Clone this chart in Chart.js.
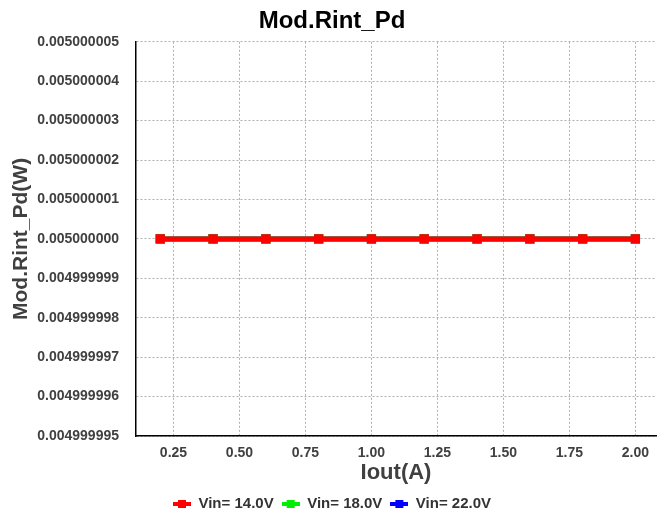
<!DOCTYPE html>
<html>
<head>
<meta charset="utf-8">
<script src="https://cdn.jsdelivr.net/npm/chart.js@4.4.1/dist/chart.umd.min.js"></script>
<style>
  html, body { margin: 0; padding: 0; background: #fff; }
  #wrap { width: 664px; height: 511px; }
</style>
</head>
<body>
<div id="wrap"><canvas id="myChart"></canvas></div>
<script>
// data
const iout = [0.2, 0.4, 0.6, 0.8, 1.0, 1.2, 1.4, 1.6, 1.8, 2.0];
const pdVin14 = [0.005, 0.005, 0.005, 0.005, 0.005, 0.005, 0.005, 0.005, 0.005, 0.005];
const pdVin18 = [0.005, 0.005, 0.005, 0.005, 0.005, 0.005, 0.005, 0.005, 0.005, 0.005];
const pdVin22 = [0.005, 0.005, 0.005, 0.005, 0.005, 0.005, 0.005, 0.005, 0.005, 0.005];
const seriesNames = ['Vin= 14.0V', 'Vin= 18.0V', 'Vin= 22.0V'];
const seriesColors = ['#ff0000', '#00ee00', '#0000ff'];
const xTicks = [0.25, 0.5, 0.75, 1.0, 1.25, 1.5, 1.75, 2.0];
const yTicks = [0.004999995, 0.004999996, 0.004999997, 0.004999998, 0.004999999,
                0.005, 0.005000001, 0.005000002, 0.005000003, 0.005000004, 0.005000005];

const FONT = "'Liberation Sans', Arial, sans-serif";

// small line + square marker for the legend
function legendMarker(color) {
    const c = document.createElement('canvas');
    c.width = 18;
    c.height = 9;
    const g = c.getContext('2d');
    g.fillStyle = color;
    g.fillRect(0, 3, 18, 4);
    g.fillRect(5, 1, 8, 8);
    return c;
}

const series = [pdVin14, pdVin18, pdVin22];
const datasets = series.map((vals, i) => ({
    label: seriesNames[i],
    data: iout.map((x, j) => ({ x: x, y: vals[j] })),
    borderColor: seriesColors[i],
    backgroundColor: seriesColors[i],
    borderWidth: 5,
    pointStyle: 'rect',
    pointRadius: 3,
    pointHoverRadius: 3,
    fill: false,
    tension: 0
}));

const ctx = document.getElementById('myChart');
new Chart(ctx, {
    type: 'line',
    data: { datasets: datasets },
    options: {
        responsive: true,
        maintainAspectRatio: false,
        animation: false,
        devicePixelRatio: 1,
        layout: { padding: { left: 0, right: 0, top: 0, bottom: -10 } },
        plugins: {
            title: {
                display: true,
                text: 'Mod.Rint_Pd',
                color: '#000',
                font: { family: FONT, size: 24, weight: 'bold' },
                padding: { top: 7, bottom: 6 }
            },
            legend: {
                position: 'bottom',
                labels: {
                    usePointStyle: true,
                    pointStyleWidth: 18,
                    padding: 8,
                    color: '#333',
                    font: { family: FONT, size: 15, weight: 'bold' },
                    generateLabels: chart => {
                        const items = Chart.defaults.plugins.legend.labels.generateLabels(chart);
                        items.forEach((it, i) => { it.pointStyle = legendMarker(seriesColors[i]); });
                        return items;
                    }
                }
            },
            tooltip: { enabled: false }
        },
        scales: {
            x: {
                type: 'linear',
                min: 0.108,
                max: 2.078,
                afterBuildTicks: axis => { axis.ticks = xTicks.map(v => ({ value: v })); },
                afterFit: axis => { axis.height = 52; },
                ticks: {
                    color: '#404040',
                    font: { family: FONT, size: 14, weight: 'bold' },
                    padding: 9,
                    maxRotation: 0,
                    callback: v => v.toFixed(2)
                },
                grid: { color: '#b0b0b0', lineWidth: 1, drawTicks: false },
                border: { display: true, color: '#000', width: 1.5, dash: [2, 2] },
                title: {
                    display: true,
                    text: 'Iout(A)',
                    color: '#404040',
                    font: { family: FONT, size: 22, weight: 'bold' },
                    padding: { top: 0, bottom: 2 }
                }
            },
            y: {
                type: 'linear',
                min: 0.004999995,
                max: 0.005000005,
                afterBuildTicks: axis => { axis.ticks = yTicks.map(v => ({ value: v })); },
                afterFit: axis => { axis.width = 136; },
                ticks: {
                    color: '#404040',
                    font: { family: FONT, size: 14, weight: 'bold' },
                    padding: 17,
                    callback: v => v.toFixed(9)
                },
                grid: { color: '#b0b0b0', lineWidth: 1, drawTicks: false },
                border: { display: true, color: '#000', width: 1.5, dash: [2, 2] },
                title: {
                    display: true,
                    text: 'Mod.Rint_Pd(W)',
                    color: '#404040',
                    font: { family: FONT, size: 21, weight: 'bold' },
                    padding: { top: 9, bottom: 0 }
                }
            }
        }
    }
});
</script>
</body>
</html>
